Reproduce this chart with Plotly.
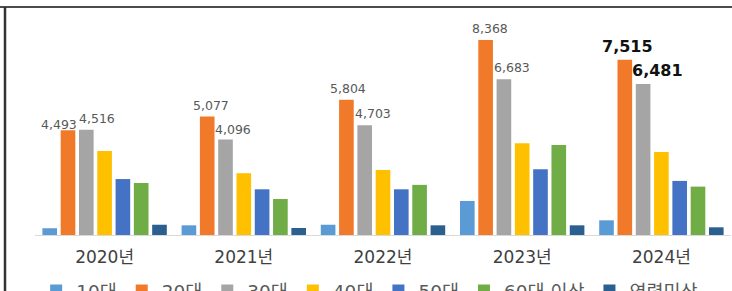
import plotly.graph_objects as go

years = ["2020년", "2021년", "2022년", "2023년", "2024년"]
series_names = ["10대", "20대", "30대", "40대", "50대", "60대 이상", "연령미상"]
v10 = [290, 415, 440, 1460, 630]
v20 = [4493, 5077, 5804, 8368, 7515]
v30 = [4516, 4096, 4703, 6683, 6481]
v40 = [3600, 2650, 2790, 3935, 3560]
v50 = [2400, 1960, 1960, 2820, 2320]
v60 = [2230, 1545, 2150, 3860, 2075]
vunk = [440, 300, 415, 415, 330]

colors = ["#5B9BD5", "#F07A2A", "#A5A5A5", "#FFC000", "#4472C4", "#70AD47", "#2A5F8F"]
all_values = [v10, v20, v30, v40, v50, v60, vunk]

FONT = "DejaVu Sans, Noto Sans CJK KR, sans-serif"
W, H = 732, 291
ML, MR, MT, MB = 35, 1, 10, 56
BARGAP = 0.08

fig = go.Figure()
for name, vals, col in zip(series_names, all_values, colors):
    fig.add_trace(go.Bar(name=name, x=years, y=vals, marker_color=col,
                         marker_line_width=0, hoverinfo="x+y+name"))

# data labels for 20대 and 30대
plot_w = W - ML - MR
slot = plot_w / len(years) * (1 - BARGAP) / len(series_names)
dx20 = [-9, 4, 2, 4, 3]
dx30 = [11, 7, 8, 8, 14]
dy20 = [-4, 2, 2, 2, 2]
dy30 = [2, 1, 2, 2, 2]
annotations = []
for idx, vals, dxs, dys in [(1, v20, dx20, dy20), (2, v30, dx30, dy30)]:
    base = (idx - 3) * slot
    for i, (yr, v) in enumerate(zip(years, vals)):
        last = (i == len(years) - 1)
        annotations.append(dict(
            x=yr, y=v, xref="x", yref="y", text=f"{v:,}", showarrow=False,
            xanchor="center", yanchor="bottom",
            xshift=base + dxs[i], yshift=dys[i],
            font=dict(family=FONT, size=16 if last else 12.5,
                      color="#111111" if last else "#595959",
                      weight="bold" if last else "normal"),
        ))

fig.update_layout(
    width=W, height=H,
    margin=dict(l=ML, r=MR, t=MT, b=MB, pad=0, autoexpand=False),
    paper_bgcolor="white", plot_bgcolor="white",
    barmode="group", bargap=BARGAP, bargroupgap=0.2,
    font=dict(family=FONT, color="#404040"),
    showlegend=True,
    legend=dict(orientation="h", xref="container", yref="container",
                x=0.505, xanchor="center", y=-0.005, yanchor="middle",
                font=dict(family=FONT, size=18.5, color="#595959"),
                itemwidth=30, traceorder="normal", bgcolor="rgba(0,0,0,0)"),
    annotations=annotations,
    shapes=[
        dict(type="line", xref="paper", yref="paper",
             x0=-0.06, x1=1.01, ysizemode="pixel", yanchor=1, y0=3, y1=3,
             line=dict(color="#111111", width=1.5)),
        dict(type="line", xref="paper", yref="paper",
             xsizemode="pixel", xanchor=0, x0=-30, x1=-30,
             ysizemode="pixel", yanchor=0, y0=-60, y1=228,
             line=dict(color="#333333", width=2.5)),
    ],
)
fig.update_xaxes(showline=True, linecolor="#D9D9D9", linewidth=1,
                 ticks="outside", ticklen=7, tickcolor="rgba(0,0,0,0)",
                 tickfont=dict(family=FONT, size=17, color="#404040"),
                 showgrid=False, zeroline=False, automargin=False)
fig.update_yaxes(range=[0, 9650], showticklabels=False, showgrid=False,
                 zeroline=False, showline=False, automargin=False)

fig.write_html("out.html", config={"displayModeBar": False},
               post_script="document.body.style.margin='0';document.body.style.overflow='hidden';")
